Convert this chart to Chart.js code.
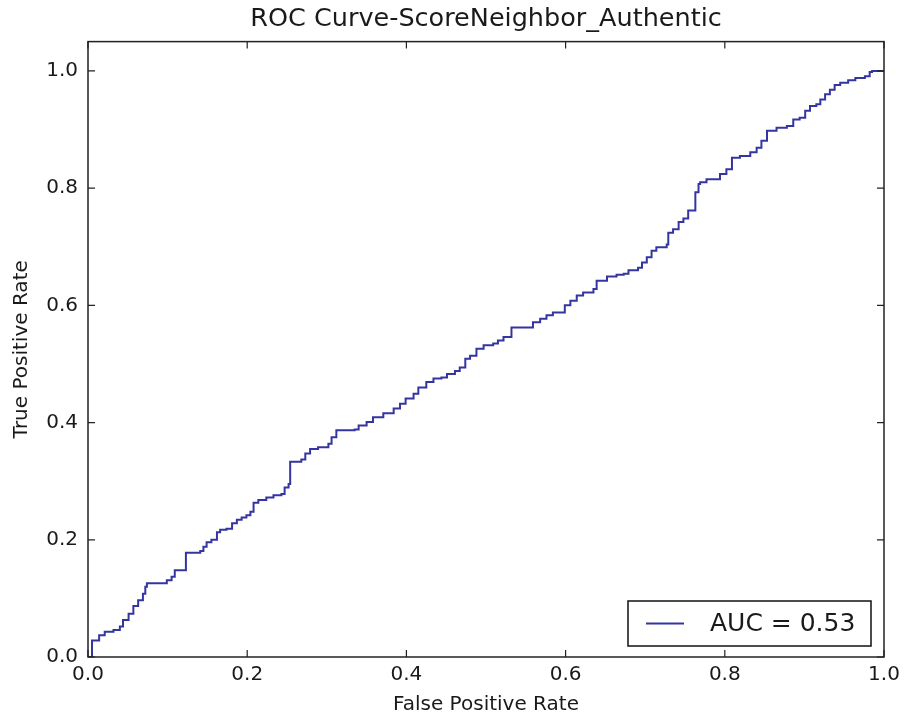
<!DOCTYPE html>
<html>
<head>
<meta charset="utf-8">
<title>ROC Curve-ScoreNeighbor_Authentic</title>
<script src="https://cdn.jsdelivr.net/npm/chart.js@4.4.1/dist/chart.umd.min.js"></script>
<style>
  html, body { margin: 0; padding: 0; background: #fff; }
  #wrap { width: 907px; height: 721px; position: relative; }
</style>
</head>
<body>
<div id="wrap"><canvas id="roc"></canvas></div>
<script>
// ROC points (false positive rate / true positive rate), step corners
const fpr = [0, 0.005, 0.014, 0.021, 0.032, 0.040, 0.044, 0.051, 0.057, 0.063, 0.069, 0.072, 0.074,
  0.099, 0.105, 0.109, 0.123, 0.141, 0.145, 0.149, 0.155, 0.162, 0.166, 0.174, 0.181, 0.187, 0.193,
  0.199, 0.204, 0.208, 0.214, 0.224, 0.233, 0.243, 0.247, 0.252, 0.254, 0.268, 0.273, 0.279, 0.289,
  0.302, 0.306, 0.312, 0.335, 0.340, 0.350, 0.358, 0.371, 0.384, 0.392, 0.399, 0.409, 0.415, 0.425,
  0.434, 0.444, 0.451, 0.461, 0.467, 0.474, 0.480, 0.488, 0.497, 0.509, 0.515, 0.522, 0.532, 0.559,
  0.568, 0.576, 0.584, 0.599, 0.606, 0.614, 0.622, 0.635, 0.639, 0.652, 0.664, 0.673, 0.679, 0.691,
  0.696, 0.702, 0.708, 0.714, 0.727, 0.729, 0.735, 0.742, 0.748, 0.754, 0.763, 0.767, 0.769, 0.777,
  0.794, 0.802, 0.809, 0.819, 0.832, 0.840, 0.846, 0.853, 0.865, 0.878, 0.886, 0.894, 0.901, 0.907,
  0.915, 0.920, 0.926, 0.932, 0.938, 0.945, 0.955, 0.964, 0.976, 0.982, 0.985, 1.0];
const tpr = [0, 0.028, 0.037, 0.043, 0.046, 0.052, 0.063, 0.074, 0.087, 0.097, 0.108, 0.120, 0.126,
  0.131, 0.137, 0.148, 0.178, 0.181, 0.188, 0.196, 0.200, 0.213, 0.217, 0.219, 0.228, 0.234, 0.238,
  0.242, 0.248, 0.263, 0.268, 0.272, 0.276, 0.278, 0.289, 0.295, 0.333, 0.337, 0.347, 0.355, 0.358,
  0.364, 0.375, 0.387, 0.388, 0.395, 0.401, 0.409, 0.416, 0.424, 0.432, 0.441, 0.449, 0.460, 0.469,
  0.475, 0.477, 0.483, 0.488, 0.494, 0.509, 0.514, 0.526, 0.532, 0.535, 0.540, 0.546, 0.562, 0.571,
  0.577, 0.583, 0.588, 0.600, 0.608, 0.617, 0.622, 0.628, 0.642, 0.649, 0.652, 0.654, 0.660, 0.664,
  0.673, 0.682, 0.693, 0.699, 0.704, 0.724, 0.730, 0.742, 0.748, 0.762, 0.793, 0.807, 0.810, 0.815,
  0.824, 0.832, 0.852, 0.855, 0.861, 0.869, 0.881, 0.898, 0.903, 0.906, 0.917, 0.920, 0.932, 0.940,
  0.943, 0.951, 0.960, 0.968, 0.976, 0.980, 0.984, 0.988, 0.991, 0.998, 1.0, 1.0];
const auc = 0.53;
const xTicks = [0, 0.2, 0.4, 0.6, 0.8, 1.0];
const yTicks = [0, 0.2, 0.4, 0.6, 0.8, 1.0];

const lineColor = '#3535a0';
const textColor = '#1a1a1a';
const font = 'DejaVu Sans';

// frame on all four sides with inward tick marks
const framePlugin = {
  id: 'frame',
  afterDraw(chart) {
    const { ctx, chartArea: a, scales: { x, y } } = chart;
    const len = 7;
    ctx.save();
    ctx.strokeStyle = '#222';
    ctx.lineWidth = 1.5;
    ctx.strokeRect(a.left, a.top, a.right - a.left, a.bottom - a.top);
    ctx.lineWidth = 1.2;
    ctx.beginPath();
    xTicks.forEach(v => {
      const px = x.getPixelForValue(v);
      ctx.moveTo(px, a.bottom); ctx.lineTo(px, a.bottom - len);
      ctx.moveTo(px, a.top); ctx.lineTo(px, a.top + len);
    });
    yTicks.forEach(v => {
      const py = y.getPixelForValue(v);
      ctx.moveTo(a.left, py); ctx.lineTo(a.left + len, py);
      ctx.moveTo(a.right, py); ctx.lineTo(a.right - len, py);
    });
    ctx.stroke();
    ctx.restore();
  }
};

// boxed legend in the lower right corner of the plot
const boxLegend = {
  id: 'boxLegend',
  afterDraw(chart) {
    const { ctx, chartArea: a } = chart;
    const ds = chart.data.datasets[0];
    const w = 243, h = 45;
    const bx = a.right - 13 - w, by = a.bottom - 11 - h;
    ctx.save();
    ctx.fillStyle = '#fff';
    ctx.fillRect(bx, by, w, h);
    ctx.strokeStyle = '#111';
    ctx.lineWidth = 1.5;
    ctx.strokeRect(bx, by, w, h);
    ctx.strokeStyle = ds.borderColor;
    ctx.lineWidth = 2;
    ctx.beginPath();
    ctx.moveTo(bx + 18, by + h / 2);
    ctx.lineTo(bx + 56, by + h / 2);
    ctx.stroke();
    ctx.fillStyle = textColor;
    ctx.font = '25px "' + font + '"';
    ctx.textBaseline = 'middle';
    ctx.fillText(ds.label, bx + 82, by + h / 2 + 1);
    ctx.restore();
  }
};

const points = fpr.map((v, i) => ({ x: v, y: tpr[i] }));

new Chart(document.getElementById('roc'), {
  type: 'line',
  data: {
    datasets: [{
      label: 'AUC = ' + auc.toFixed(2),
      data: points,
      borderColor: lineColor,
      borderWidth: 2,
      pointRadius: 0,
      stepped: 'before',
      fill: false
    }]
  },
  options: {
    responsive: true,
    maintainAspectRatio: false,
    animation: false,
    layout: { padding: { left: 0, right: 23, top: 0, bottom: 0 } },
    plugins: {
      legend: { display: false },
      tooltip: { enabled: false },
      title: {
        display: true,
        fullSize: false,
        text: 'ROC Curve-ScoreNeighbor_Authentic',
        color: textColor,
        font: { family: font, size: 25.5, weight: 'normal' },
        padding: { top: 4, bottom: 7 }
      }
    },
    scales: {
      x: {
        type: 'linear',
        min: 0,
        max: 1,
        afterBuildTicks: s => { s.ticks = xTicks.map(v => ({ value: v })); },
        afterFit: s => { s.height = 64; },
        grid: { display: false, drawTicks: false },
        border: { display: false },
        ticks: {
          color: textColor,
          padding: 6,
          maxRotation: 0,
          font: { family: font, size: 20 },
          callback: v => v.toFixed(1)
        },
        title: {
          display: true,
          text: 'False Positive Rate',
          color: textColor,
          font: { family: font, size: 20 },
          padding: { top: 0, bottom: 4 }
        }
      },
      y: {
        type: 'linear',
        min: 0,
        max: 1.05,
        afterBuildTicks: s => { s.ticks = yTicks.map(v => ({ value: v })); },
        afterFit: s => { s.width = 88; },
        grid: { display: false, drawTicks: false },
        border: { display: false },
        ticks: {
          color: textColor,
          padding: 10,
          font: { family: font, size: 20 },
          callback: v => v.toFixed(1)
        },
        title: {
          display: true,
          text: 'True Positive Rate',
          color: textColor,
          font: { family: font, size: 20 },
          padding: { top: 10, bottom: 0 }
        }
      }
    }
  },
  plugins: [framePlugin, boxLegend]
});
</script>
</body>
</html>
